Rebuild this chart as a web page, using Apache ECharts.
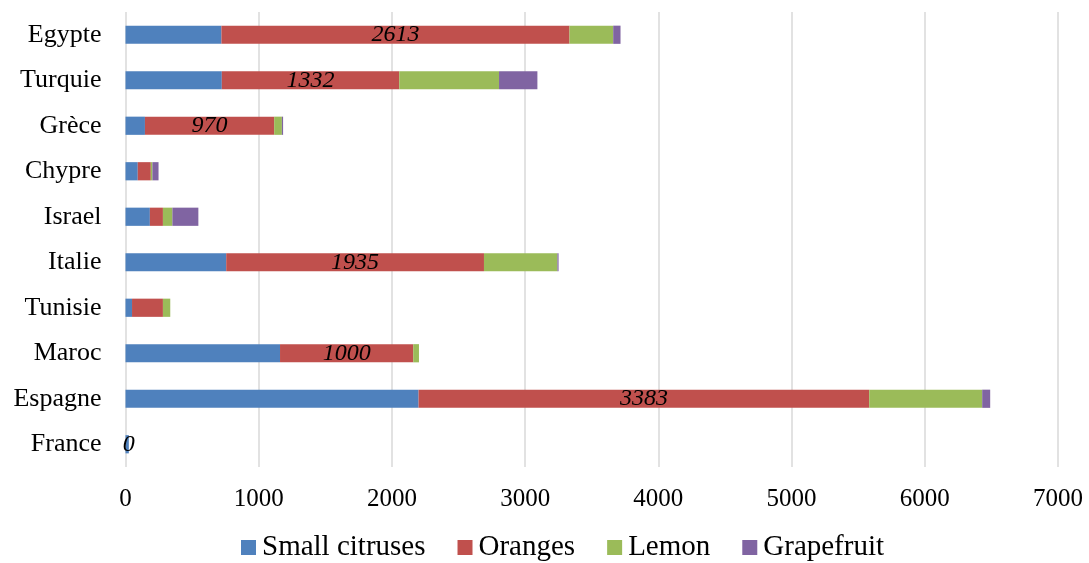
<!DOCTYPE html>
<html>
<head>
<meta charset="utf-8">
<script src="https://cdn.jsdelivr.net/npm/echarts@6/dist/echarts.min.js"></script>
<style>html,body{margin:0;padding:0;background:#fff;}#c{width:1089px;height:563px;}</style>
</head>
<body>
<div id="c"></div>
<script>
const categories = ['Egypte','Turquie','Grèce','Chypre','Israel','Italie','Tunisie','Maroc','Espagne','France'];
const smallCitruses = [720, 723, 146, 92, 183, 756, 49, 1160, 2200, 25];
const oranges = [2613, 1332, 970, 98, 98, 1935, 232, 1000, 3383, 0];
const lemon = [328, 749, 58, 12, 71, 551, 55, 43, 848, 0];
const grapefruit = [55, 288, 9, 46, 195, 9, 0, 0, 60, 0];
const orangeLabelShown = [true, true, true, false, false, true, false, true, true, true];
const xTicks = [0, 1000, 2000, 3000, 4000, 5000, 6000, 7000];

const font = 'Liberation Serif, Times New Roman, serif';
const chart = echarts.init(document.getElementById('c'), null, {renderer: 'canvas'});
function mk(name, data, color, labels) {
  return {
    name: name, type: 'bar', stack: 'total', barCategoryGap: '60%',
    itemStyle: {color: color},
    emphasis: {disabled: true},
    data: data.map((v, i) => labels ? {value: v, label: {show: labels[i]}} : v),
    label: labels ? {show: true, position: 'inside', formatter: '{c}', fontFamily: font,
      fontStyle: 'italic', fontSize: 24, color: '#000', padding: [3, 0, 0, 0]} : {show: false}
  };
}
chart.setOption({
  animation: false,
  textStyle: {fontFamily: font},
  grid: {left: 125.5, right: 31, top: 12, bottom: 96, containLabel: false},
  legend: {
    top: 533, left: 241, padding: 0, itemWidth: 15, itemHeight: 15, itemGap: 32,
    icon: 'rect',
    textStyle: {fontFamily: font, fontSize: 29, color: '#000', padding: [3, 0, 0, 1]},
    data: ['Small citruses', 'Oranges', 'Lemon', 'Grapefruit']
  },
  xAxis: {
    type: 'value', min: xTicks[0], max: xTicks[xTicks.length - 1], interval: 1000,
    axisLine: {show: false}, axisTick: {show: false},
    splitLine: {show: true, lineStyle: {color: '#d9d9d9', width: 1.5}},
    axisLabel: {fontFamily: font, fontSize: 25, color: '#000', margin: 20,
      formatter: function (v) { return String(v); }}
  },
  yAxis: {
    type: 'category', inverse: true, data: categories,
    axisLine: {show: false}, axisTick: {show: false},
    axisLabel: {fontFamily: font, fontSize: 26, color: '#000', margin: 24}
  },
  series: [
    mk('Small citruses', smallCitruses, '#4F81BD'),
    mk('Oranges', oranges, '#C0504D', orangeLabelShown),
    mk('Lemon', lemon, '#9BBB59'),
    mk('Grapefruit', grapefruit, '#8064A2')
  ]
});
</script>
</body>
</html>
